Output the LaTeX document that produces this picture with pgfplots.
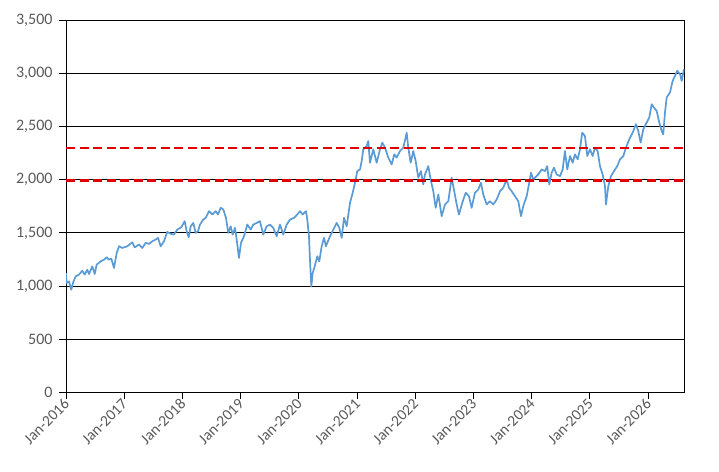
\documentclass[border=0pt]{standalone}
\usepackage{pgfplots}
\pgfplotsset{compat=1.18}
\usepackage{fontspec}
\setmainfont{Carlito}
\definecolor{linecol}{HTML}{5B9BD5}
\definecolor{txtgray}{HTML}{595959}
\definecolor{dashred}{HTML}{E00000}
\begin{document}
\begin{tikzpicture}
\path[use as bounding box] (0,0) rectangle (719bp,472bp);
\begin{axis}[
  at={(66bp,79.7bp)}, anchor=south west,
  scale only axis, width=618.3bp, height=372bp,
  xmin=2016, xmax=2026.624, ymin=0, ymax=3500,
  xtick={2016,2017,2018,2019,2020,2021,2022,2023,2024,2025,2026},
  xticklabels={Jan-2016,Jan-2017,Jan-2018,Jan-2019,Jan-2020,Jan-2021,Jan-2022,Jan-2023,Jan-2024,Jan-2025,Jan-2026},
  ytick={0,500,1000,1500,2000,2500,3000,3500},
  xtick pos=lower, ytick pos=left,
  tick align=outside, major tick length=7bp,
  ymajorgrids,
  major grid style={black, line width=0.75bp},
  axis line style={black, line width=0.75bp},
  tick style={black, line width=0.75bp},
  /pgf/number format/assume math mode=true,
  /pgf/number format/1000 sep={,},
  scaled y ticks=false,
  yticklabel style={font=\fontsize{16bp}{19bp}\selectfont, text=txtgray, xshift=-3bp},
  xticklabel style={font=\fontsize{15.5bp}{18bp}\selectfont, text=txtgray, rotate=45, anchor=east, yshift=-2bp, inner sep=1bp},
  clip=true,
]
\addplot[linecol, line width=1.7bp, line join=round] coordinates {
(2016.000,1123)(2016.012,1028)(2016.052,1043)(2016.091,965)(2016.125,1038)(2016.167,1091)
(2016.223,1107)(2016.280,1144)(2016.321,1107)(2016.366,1154)(2016.395,1113)(2016.452,1185)
(2016.493,1113)(2016.527,1201)(2016.596,1232)(2016.653,1248)(2016.699,1270)(2016.739,1248)
(2016.778,1258)(2016.825,1170)(2016.871,1311)(2016.911,1374)(2016.967,1358)(2017.053,1374)
(2017.139,1411)(2017.180,1364)(2017.254,1390)(2017.311,1358)(2017.369,1406)(2017.426,1396)
(2017.483,1421)(2017.541,1437)(2017.581,1453)(2017.627,1374)(2017.684,1421)(2017.740,1509)
(2017.799,1491)(2017.856,1484)(2017.912,1531)(2017.981,1553)(2018.039,1610)(2018.074,1515)
(2018.108,1458)(2018.142,1562)(2018.187,1594)(2018.228,1500)(2018.268,1515)(2018.302,1578)
(2018.359,1625)(2018.400,1641)(2018.457,1704)(2018.514,1673)(2018.572,1704)(2018.612,1673)
(2018.658,1736)(2018.703,1720)(2018.749,1641)(2018.788,1500)(2018.830,1562)(2018.864,1484)
(2018.904,1547)(2018.933,1437)(2018.972,1264)(2019.007,1406)(2019.058,1468)(2019.115,1578)
(2019.173,1531)(2019.218,1578)(2019.276,1594)(2019.333,1610)(2019.390,1484)(2019.448,1562)
(2019.505,1578)(2019.562,1547)(2019.620,1468)(2019.677,1578)(2019.734,1484)(2019.792,1578)
(2019.849,1625)(2019.918,1641)(2019.974,1673)(2020.021,1704)(2020.067,1673)(2020.124,1704)
(2020.146,1625)(2020.175,1468)(2020.192,1248)(2020.215,996)(2020.239,1123)(2020.273,1185)
(2020.318,1280)(2020.352,1232)(2020.393,1374)(2020.433,1453)(2020.467,1374)(2020.524,1453)
(2020.593,1531)(2020.651,1594)(2020.696,1547)(2020.737,1453)(2020.777,1641)(2020.823,1562)
(2020.880,1783)(2020.926,1877)(2020.966,1972)(2021.005,2081)(2021.052,2097)(2021.081,2176)
(2021.108,2286)(2021.166,2317)(2021.194,2364)(2021.223,2160)(2021.280,2286)(2021.338,2160)
(2021.395,2286)(2021.435,2349)(2021.481,2302)(2021.538,2208)(2021.596,2144)(2021.641,2239)
(2021.682,2208)(2021.739,2270)(2021.796,2302)(2021.854,2443)(2021.881,2302)(2021.922,2160)
(2021.967,2270)(2022.008,2176)(2022.053,2019)(2022.099,2081)(2022.139,1956)(2022.168,2050)
(2022.225,2128)(2022.271,1987)(2022.311,1892)(2022.352,1736)(2022.397,1861)(2022.455,1657)
(2022.512,1767)(2022.569,1798)(2022.627,2019)(2022.671,1892)(2022.713,1767)(2022.752,1673)
(2022.809,1783)(2022.867,1877)(2022.924,1845)(2022.970,1736)(2023.027,1877)(2023.084,1908)
(2023.130,1972)(2023.170,1861)(2023.228,1767)(2023.285,1798)(2023.342,1767)(2023.400,1814)
(2023.457,1892)(2023.514,1925)(2023.572,2003)(2023.611,1925)(2023.658,1892)(2023.715,1845)
(2023.771,1798)(2023.818,1657)(2023.857,1751)(2023.915,1845)(2023.955,1956)(2023.990,2066)
(2024.029,2003)(2024.058,2019)(2024.115,2050)(2024.173,2097)(2024.230,2081)(2024.269,2128)
(2024.304,1956)(2024.345,2066)(2024.385,2113)(2024.431,2050)(2024.488,2034)(2024.534,2097)
(2024.573,2270)(2024.613,2097)(2024.660,2223)(2024.706,2160)(2024.745,2239)(2024.792,2192)
(2024.831,2286)(2024.870,2443)(2024.917,2411)(2024.957,2223)(2025.003,2286)(2025.049,2223)
(2025.089,2302)(2025.135,2270)(2025.175,2128)(2025.221,2050)(2025.261,1940)(2025.278,1767)
(2025.318,1940)(2025.364,2034)(2025.416,2081)(2025.472,2128)(2025.519,2192)(2025.576,2223)
(2025.622,2302)(2025.678,2380)(2025.737,2443)(2025.793,2522)(2025.833,2459)(2025.874,2349)
(2025.919,2474)(2025.977,2538)(2026.022,2585)(2026.063,2710)(2026.103,2679)(2026.149,2647)
(2026.194,2538)(2026.235,2459)(2026.262,2427)(2026.292,2632)(2026.321,2774)(2026.378,2821)
(2026.424,2930)(2026.464,2977)(2026.503,3025)(2026.550,2993)(2026.579,2930)(2026.619,3040)
};
\addplot[dashred, line width=2.6bp, dash pattern=on 9bp off 4.5bp] coordinates {(2016,2300)(2026.624,2300)};
\addplot[dashred, line width=2.6bp, dash pattern=on 9bp off 4.5bp] coordinates {(2016,1995)(2026.624,1995)};
\end{axis}
\end{tikzpicture}
\end{document}
